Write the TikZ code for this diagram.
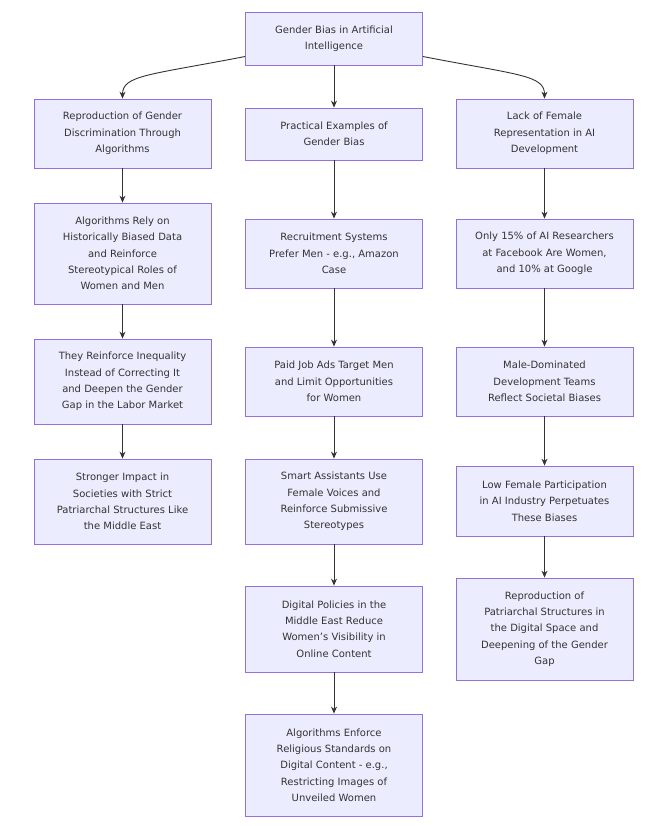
\documentclass[tikz,border=0pt]{standalone}
\usepackage{fontspec}
\setmainfont{DejaVu Sans}
\usetikzlibrary{arrows.meta}
\definecolor{bfill}{HTML}{ECECFF}
\definecolor{bdraw}{HTML}{9370DB}
\definecolor{txt}{HTML}{333333}
\definecolor{edge}{HTML}{333333}
\tikzset{
 box/.style={draw=bdraw, fill=bfill, line width=0.8pt, align=center, text=txt,
   font=\fontsize{10}{16.3}\selectfont, inner sep=0pt, minimum width=177pt},
 conn/.style={draw=edge, line width=0.9pt, -{Stealth[length=7pt,width=6pt]}}
}
\newcommand{\bx}[6]{\node[box, minimum height=#4pt] (#1) at (#2pt,-#3pt) {#6};}
\begin{document}
\begin{tikzpicture}
\useasboundingbox (0,0) rectangle (670pt,-826pt);
\bx{T}{334}{38.5}{53}{}{Gender Bias in Artificial\\Intelligence}
\bx{L1}{122.5}{133.5}{69}{}{Reproduction of Gender\\Discrimination Through\\Algorithms}
\bx{L2}{122.5}{253.5}{101}{}{Algorithms Rely on\\Historically Biased Data\\and Reinforce\\Stereotypical Roles of\\Women and Men}
\bx{L3}{122.5}{381.5}{85}{}{They Reinforce Inequality\\Instead of Correcting It\\and Deepen the Gender\\Gap in the Labor Market}
\bx{L4}{122.5}{501.5}{85}{}{Stronger Impact in\\Societies with Strict\\Patriarchal Structures Like\\the Middle East}
\bx{M1}{334}{134}{52}{}{Practical Examples of\\Gender Bias}
\bx{M2}{334}{253.5}{69}{}{Recruitment Systems\\Prefer Men - e.g., Amazon\\Case}
\bx{M3}{334}{381.5}{69}{}{Paid Job Ads Target Men\\and Limit Opportunities\\for Women}
\bx{M4}{334}{501.5}{85}{}{Smart Assistants Use\\Female Voices and\\Reinforce Submissive\\Stereotypes}
\bx{M5}{334}{629}{86}{}{Digital Policies in the\\Middle East Reduce\\Women’s Visibility in\\Online Content}
\bx{M6}{334}{765}{102}{}{Algorithms Enforce\\Religious Standards on\\Digital Content - e.g.,\\Restricting Images of\\Unveiled Women}
\bx{R1}{544.5}{133.5}{69}{}{Lack of Female\\Representation in AI\\Development}
\bx{R2}{544.5}{253.5}{69}{}{Only 15\% of AI Researchers\\at Facebook Are Women,\\and 10\% at Google}
\bx{R3}{544.5}{381.5}{69}{}{Male-Dominated\\Development Teams\\Reflect Societal Biases}
\bx{R4}{544.5}{501}{70}{}{Low Female Participation\\in AI Industry Perpetuates\\These Biases}
\bx{R5}{544.5}{629}{102}{}{Reproduction of\\Patriarchal Structures in\\the Digital Space and\\Deepening of the Gender\\Gap}
\draw[conn] ([yshift=-18pt]T.west) .. controls (150pt,-75pt) and (122.5pt,-75pt) .. (L1.north);
\draw[conn] ([yshift=-18pt]T.east) .. controls (518pt,-75pt) and (544.5pt,-75pt) .. (R1.north);
\draw[conn] (T) -- (M1);
\draw[conn] (L1) -- (L2); \draw[conn] (L2) -- (L3); \draw[conn] (L3) -- (L4);
\draw[conn] (M1) -- (M2); \draw[conn] (M2) -- (M3); \draw[conn] (M3) -- (M4);
\draw[conn] (M4) -- (M5); \draw[conn] (M5) -- (M6);
\draw[conn] (R1) -- (R2); \draw[conn] (R2) -- (R3); \draw[conn] (R3) -- (R4); \draw[conn] (R4) -- (R5);
\end{tikzpicture}
\end{document}
